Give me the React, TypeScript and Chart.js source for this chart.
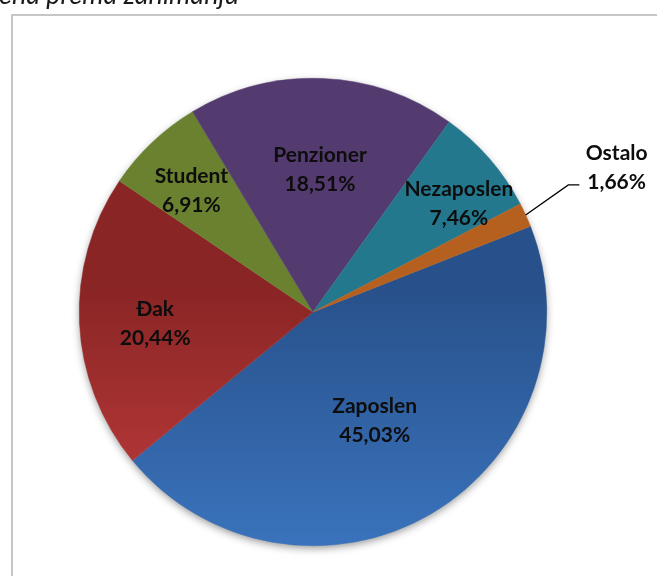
import React, { useEffect, useRef } from "react";
import { Chart, registerables } from "chart.js";

Chart.register(...registerables);

const categories = ["Zaposlen", "Đak", "Student", "Penzioner", "Nezaposlen", "Ostalo"];
const shares = [45.03, 20.44, 6.91, 18.51, 7.46, 1.66];
const baseColors = ["#28518B", "#8A2525", "#6A8230", "#533A6F", "#23788E", "#B5601E"];
const lightColors = ["#3A73BC", "#C23D3D", "#6A8230", "#533A6F", "#23788E", "#B5601E"];
const titleText = "ena prema zanimanju";

const labelRadius = [0.534, 0.677, 0.734, 0.608, 0.776, 1.438];
const labelAngleShift = [0.9, -1.6, -1.7, 0.5, 4.5, -0.85];

const fmt = (v: number) => v.toFixed(2).replace(".", ",") + "%";

const sliceGradient = (c: any) => {
  const i = c.dataIndex ?? 0;
  const chart = c.chart;
  const area = chart.chartArea;
  if (!area) return baseColors[i];
  const g = chart.ctx.createLinearGradient(0, area.top, 0, area.bottom);
  g.addColorStop(0, baseColors[i]);
  g.addColorStop(0.45, baseColors[i]);
  g.addColorStop(1, lightColors[i]);
  return g;
};

const piePlugin = {
  id: "pieDecor",
  beforeDraw(chart: any) {
    const ctx = chart.ctx;
    ctx.save();
    ctx.font = "italic 27px Lato";
    ctx.fillStyle = "#1a1a1a";
    ctx.textAlign = "left";
    ctx.textBaseline = "alphabetic";
    ctx.fillText(titleText, -1, 4);
    ctx.restore();
  },
  beforeDatasetsDraw(chart: any) {
    const ctx = chart.ctx;
    const arc = chart.getDatasetMeta(0).data[0];
    if (!arc) return;
    const { x, y, outerRadius } = arc.getProps(["x", "y", "outerRadius"], true);
    ctx.save();
    ctx.shadowColor = "rgba(0,0,0,0.45)";
    ctx.shadowBlur = 8;
    ctx.shadowOffsetX = 0;
    ctx.shadowOffsetY = 3;
    ctx.fillStyle = "#ffffff";
    ctx.beginPath();
    ctx.arc(x, y, outerRadius - 1, 0, Math.PI * 2);
    ctx.fill();
    ctx.restore();
  },
  afterDatasetsDraw(chart: any) {
    const ctx = chart.ctx;
    const meta = chart.getDatasetMeta(0);
    ctx.save();
    ctx.font = "bold 21px Lato";
    ctx.fillStyle = "#0d0d0d";
    ctx.textAlign = "center";
    ctx.textBaseline = "middle";
    meta.data.forEach((arc: any, i: number) => {
      const { x, y, startAngle, endAngle, outerRadius } = arc.getProps(
        ["x", "y", "startAngle", "endAngle", "outerRadius"],
        true
      );
      const mid = (startAngle + endAngle) / 2;
      const a = mid + (labelAngleShift[i] * Math.PI) / 180;
      const lx = x + Math.cos(a) * outerRadius * labelRadius[i];
      const ly = y + Math.sin(a) * outerRadius * labelRadius[i];
      const line1 = categories[i];
      const line2 = fmt(shares[i]);
      ctx.fillText(line1, lx, ly - 14.5);
      ctx.fillText(line2, lx, ly + 14.5);
      if (labelRadius[i] > 1) {
        const ex = x + Math.cos(mid) * outerRadius;
        const ey = y + Math.sin(mid) * outerRadius;
        const w2 = ctx.measureText(line2).width;
        const endX = lx - w2 / 2 - 8;
        const elbowX = endX - 11;
        const lineY = ly + 17;
        ctx.strokeStyle = "#000000";
        ctx.lineWidth = 1.3;
        ctx.beginPath();
        ctx.moveTo(ex, ey);
        ctx.lineTo(elbowX, lineY);
        ctx.lineTo(endX, lineY);
        ctx.stroke();
      }
    });
    ctx.restore();
  },
};

export default function App() {
  const ref = useRef<HTMLCanvasElement | null>(null);

  useEffect(() => {
    if (!ref.current) return;
    const chart = new Chart(ref.current, {
      type: "pie",
      data: {
        labels: categories,
        datasets: [
          {
            data: shares,
            backgroundColor: sliceGradient as any,
            borderColor: sliceGradient as any,
            borderWidth: 0.5,
          },
        ],
      },
      options: {
        responsive: false,
        animation: false,
        rotation: 68.45,
        layout: { padding: { left: 79, right: 110, top: 78, bottom: 30 } },
        plugins: {
          legend: { display: false },
          tooltip: { enabled: false },
          title: { display: false },
        },
      },
      plugins: [piePlugin],
    });
    return () => chart.destroy();
  }, []);

  return (
    <div
      style={{
        position: "fixed",
        left: 0,
        top: 0,
        width: 657,
        height: 576,
        overflow: "hidden",
        background: "#ffffff",
      }}
    >
      <div
        style={{
          position: "absolute",
          left: 11,
          top: 14,
          width: 720,
          height: 640,
          border: "2px solid #C6C6C6",
          boxSizing: "border-box",
        }}
      />
      <canvas
        ref={ref}
        width={657}
        height={576}
        style={{ position: "absolute", left: 0, top: 0, display: "block" }}
      />
    </div>
  );
}
